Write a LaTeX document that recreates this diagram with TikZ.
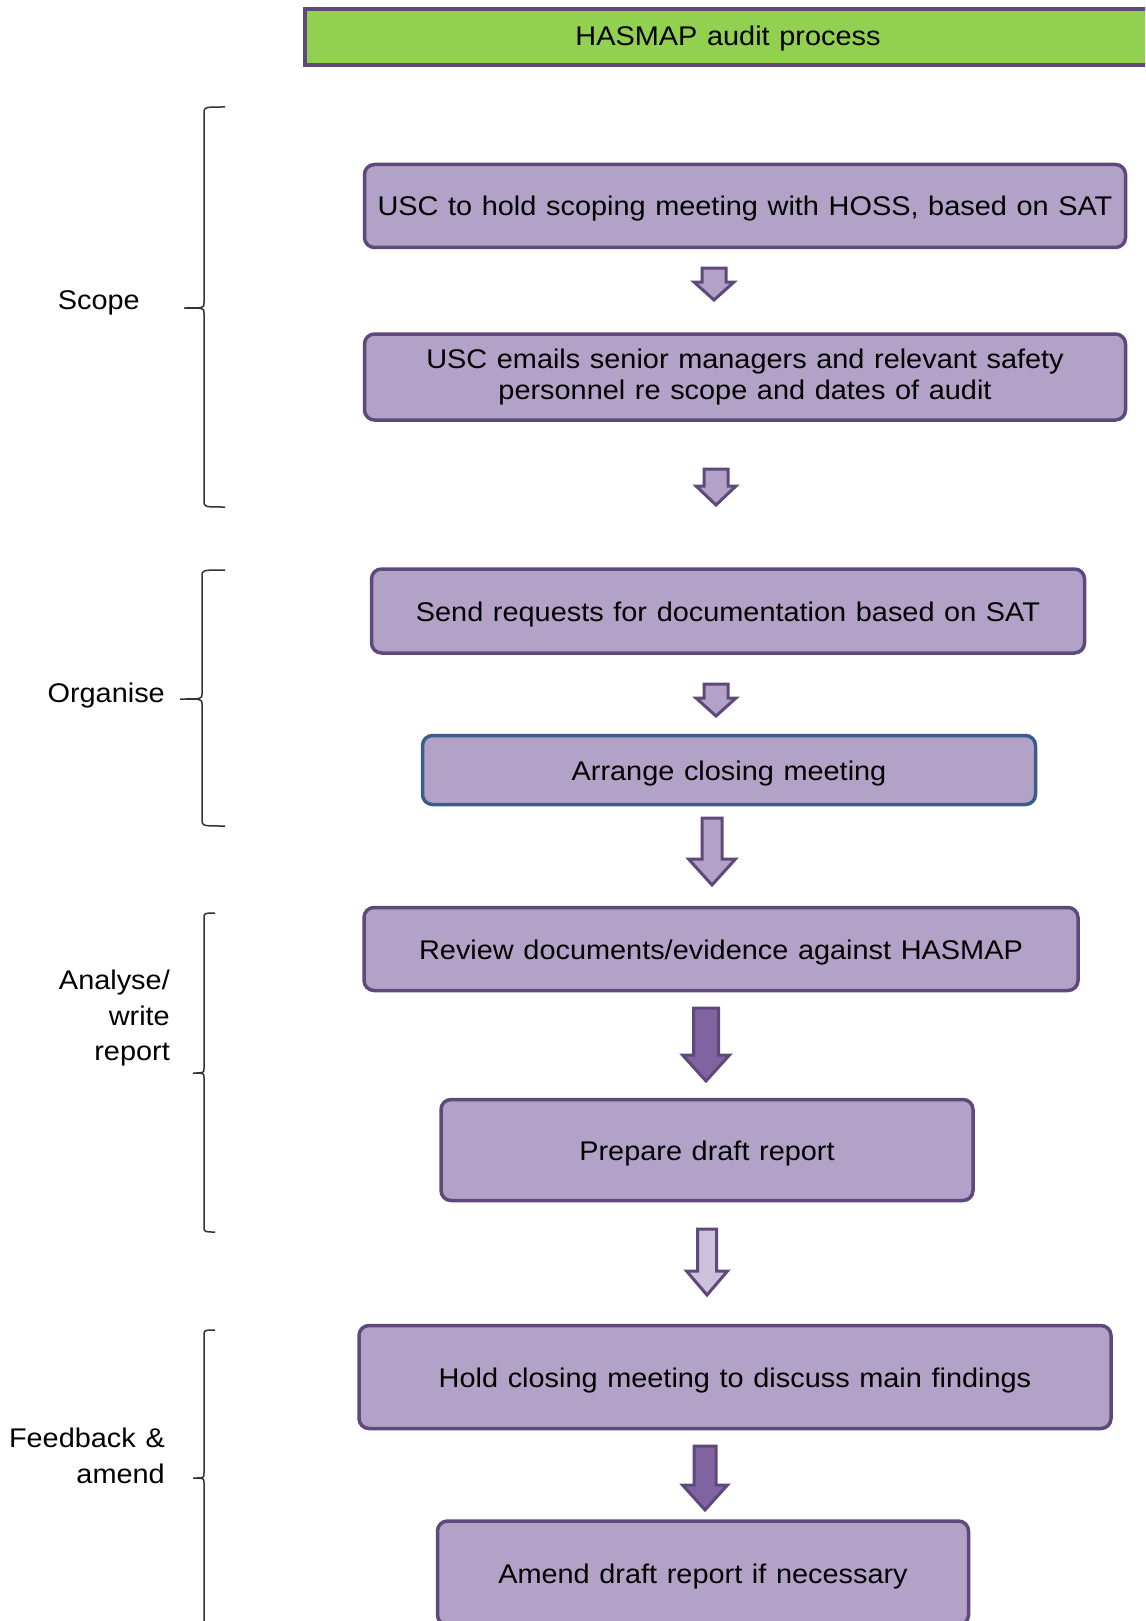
\documentclass[tikz,border=0pt]{standalone}
\usepackage{fontspec}
\setmainfont[FakeStretch=1.07,WordSpace=1.2]{Liberation Sans}
\usetikzlibrary{calc}

\definecolor{boxfill}{HTML}{B2A2C7}
\definecolor{boxline}{HTML}{5F497A}
\definecolor{darkfill}{HTML}{8064A2}
\definecolor{palefill}{HTML}{CCC1DA}
\definecolor{blueline}{HTML}{385D8A}
\definecolor{titlefill}{HTML}{92D050}

% block arrow: [style] {top} {tip} {half shaft} {half head} {head length}
\newcommand\blockarrow[6][]{%
  \path[block arrow,#1] let \p1=(#2), \p2=(#3) in
    (\x1-#4,\y1) -- (\x1+#4,\y1) -- (\x1+#4,\y2+#6) -- (\x1+#5,\y2+#6)
    -- (\x1,\y2) -- (\x1-#5,\y2+#6) -- (\x1-#4,\y2+#6) -- cycle;}

% left brace: {x} {top} {middle} {bottom} {hook x} {tip x}
\newcommand\phasebrace[6]{%
  \draw[brace line] (#5,#2) .. controls (#1,#2) .. (#1,#2+6) -- (#1,#3-5)
    .. controls (#1,#3) .. (#6,#3) .. controls (#1,#3) .. (#1,#3+5)
    -- (#1,#4-6) .. controls (#1,#4) .. (#5,#4);}

\begin{document}
\begin{tikzpicture}[x=1pt,y=-1pt,
  main node/.style={rectangle,rounded corners=10pt,draw=boxline,fill=boxfill,line width=3.5pt,
    inner sep=0pt,align=center,font=\fontsize{27}{31}\selectfont},
  one line/.style={text height=22pt,text depth=2pt},
  title node/.style={rectangle,draw=boxline,fill=titlefill,line width=3.5pt,inner sep=0pt},
  phase/.style={anchor=east,align=right,inner sep=0pt,font=\fontsize{27}{35.5}\selectfont},
  block arrow/.style={draw=boxline,fill=boxfill,line width=3pt,line join=miter},
  brace line/.style={draw=black!80,line width=1.5pt}]

\useasboundingbox (0,0) rectangle (1145,1621);
\clip (0,0) rectangle (1145,1621);

\node[title node,minimum width=855pt,minimum height=56pt] (t) at (732.5,37) {};
\node[font=\fontsize{27}{31}\selectfont] (tt) at (728,39) {HASMAP audit process};

\node[main node,one line,minimum width=761pt,minimum height=83pt] (1) at (745,206) {USC to hold scoping meeting with HOSS, based on SAT};
\node[main node,minimum width=761pt,minimum height=86pt] (2) at (745,377) {USC emails senior managers and relevant safety\\personnel re scope and dates of audit};
\node[main node,one line,minimum width=713pt,minimum height=84pt] (3) at (728,611) {Send requests for documentation based on SAT};
\node[main node,one line,draw=blueline,minimum width=613pt,minimum height=69pt] (4) at (729,770) {Arrange closing meeting};
\node[main node,one line,minimum width=714pt,minimum height=83pt] (5) at (721,949) {Review documents/evidence against HASMAP};
\node[main node,one line,minimum width=532pt,minimum height=101pt] (6) at (707,1150) {Prepare draft report};
\node[main node,one line,minimum width=752pt,minimum height=103pt] (7) at (735,1377) {Hold closing meeting to discuss main findings};
\node[main node,one line,minimum width=531pt,minimum height=104pt] (8) at (703,1573) {Amend draft report if necessary};

\coordinate (a1) at (714,268); \coordinate (b1) at (714,300);
\coordinate (a2) at (716,469); \coordinate (b2) at (716,505);
\coordinate (a3) at (716,684); \coordinate (b3) at (716,716);
\coordinate (a4) at (712,818); \coordinate (b4) at (712,885);
\coordinate (a5) at (706,1008); \coordinate (b5) at (706,1081);
\coordinate (a6) at (707,1229); \coordinate (b6) at (707,1295);
\coordinate (a7) at (705,1446); \coordinate (b7) at (705,1510);

\blockarrow{a1}{b1}{12pt}{20pt}{18pt}
\blockarrow{a2}{b2}{12pt}{20pt}{19pt}
\blockarrow{a3}{b3}{12pt}{20pt}{18pt}
\blockarrow{a4}{b4}{10pt}{23.5pt}{26pt}
\blockarrow[fill=darkfill]{a5}{b5}{12.5pt}{23.5pt}{26pt}
\blockarrow[fill=palefill]{a6}{b6}{9.5pt}{20.5pt}{24pt}
\blockarrow[fill=darkfill]{a7}{b7}{11pt}{22.5pt}{25pt}

\node[phase] (scope) at (140,303) {Scope};
\node[phase] (org) at (165,696) {Organise};
\node[phase] (ana) at (170,1018.5) {Analyse/\\write\\report};
\node[phase] (fb) at (165,1456) {Feedback \&\\amend};

\phasebrace{204}{107}{308}{507}{225}{184}
\phasebrace{202}{570}{699}{826}{225}{180}
\phasebrace{204}{913}{1073}{1232}{215}{193}
\phasebrace{204}{1330}{1478}{1680}{215}{193}
\end{tikzpicture}
\end{document}
